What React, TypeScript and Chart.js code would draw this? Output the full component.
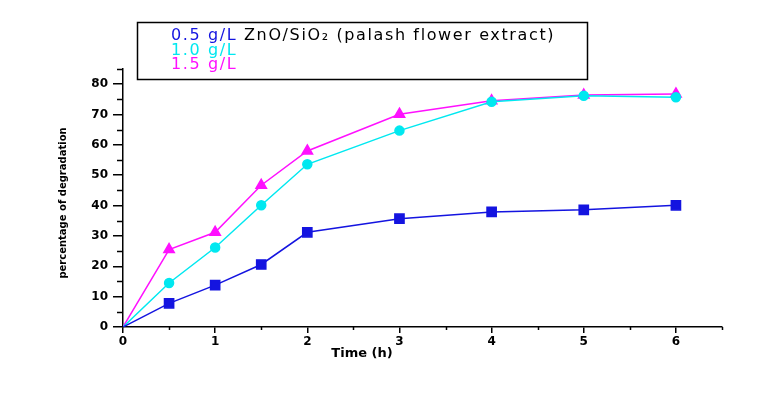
import React, { useEffect, useRef } from "react";
import { Chart, registerables } from "chart.js";

Chart.register(...registerables);

const timeH = [0, 0.5, 1, 1.5, 2, 3, 4, 5, 6];
const series05 = [0, 7.8, 13.8, 20.6, 31.2, 35.7, 37.9, 38.6, 40.1];
const series10 = [0, 14.5, 26.2, 40.1, 53.6, 64.7, 74.2, 76.2, 75.7];
const series15 = [0, 25.5, 31.2, 46.7, 58.0, 70.1, 74.5, 76.4, 76.8];
const seriesLabels = ["0.5 g/L", "1.0 g/L", "1.5 g/L"];
const legendSuffix = " ZnO/SiO\u2082 (palash flower extract)";
const xTicks = [0, 1, 2, 3, 4, 5, 6];
const yTicks = [0, 10, 20, 30, 40, 50, 60, 70, 80];
const xTitle = "Time (h)";
const yTitle = "percentage of degradation";

const colors = ["#1414e0", "#00e8f0", "#ff10ff"];

const overlay = {
  id: "overlay",
  afterDraw(chart: any) {
    const ctx = chart.ctx;
    const xs = chart.scales.x;
    const ys = chart.scales.y;
    const ca = chart.chartArea;
    ctx.save();
    ctx.strokeStyle = "#000";
    ctx.lineWidth = 1.5;
    for (let v = 5; v <= 85; v += 10) {
      const py = Math.round(ys.getPixelForValue(v)) + 0.5;
      ctx.beginPath();
      ctx.moveTo(ca.left - 6, py);
      ctx.lineTo(ca.left, py);
      ctx.stroke();
    }
    for (let v = 0.5; v <= 6.5; v += 1) {
      const px = Math.round(xs.getPixelForValue(v)) + 0.5;
      ctx.beginPath();
      ctx.moveTo(px, ca.bottom);
      ctx.lineTo(px, ca.bottom + 3);
      ctx.stroke();
    }
    ctx.fillStyle = "#000";
    ctx.font = "bold 13px 'DejaVu Sans'";
    ctx.textAlign = "center";
    ctx.textBaseline = "middle";
    ctx.fillText(xTitle, 362, 354);
    ctx.save();
    ctx.translate(63, 203);
    ctx.rotate(-Math.PI / 2);
    ctx.font = "bold 10px 'DejaVu Sans'";
    ctx.fillText(yTitle, 0, 0);
    ctx.restore();
    // legend box
    ctx.fillStyle = "#fff";
    ctx.fillRect(137, 22, 450, 57);
    ctx.lineWidth = 1.5;
    ctx.strokeStyle = "#000";
    ctx.strokeRect(137.5, 22.5, 450, 57);
    ctx.font = "16px 'DejaVu Sans'";
    ctx.textAlign = "left";
    ctx.textBaseline = "middle";
    const full = seriesLabels[0] + legendSuffix;
    const base = ctx.measureText(full).width;
    const spacing = Math.max(0, (384 - base) / full.length);
    (ctx as any).letterSpacing = spacing.toFixed(2) + "px";
    const ys2 = [36, 51, 65];
    chart.data.datasets.forEach((ds: any, i: number) => {
      ctx.fillStyle = ds.borderColor;
      ctx.fillText(ds.label, 171, ys2[i]);
      if (i === 0) {
        const w = ctx.measureText(ds.label).width;
        ctx.fillStyle = "#000";
        ctx.fillText(legendSuffix, 171 + w, ys2[i]);
      }
    });
    (ctx as any).letterSpacing = "0px";
    ctx.restore();
  },
};

export default function App() {
  const ref = useRef<HTMLCanvasElement>(null);
  useEffect(() => {
    if (!ref.current) return;
    const mk = (d: number[]) => d.map((v, i) => ({ x: timeH[i], y: v }));
    const radii = timeH.map((t) => (t === 0 ? 0 : 1));
    const chart = new Chart(ref.current, {
      type: "line",
      data: {
        datasets: [
          {
            label: seriesLabels[0],
            data: mk(series05),
            borderColor: colors[0],
            backgroundColor: colors[0],
            borderWidth: 1.5,
            pointStyle: "rect",
            pointRadius: radii.map((r) => r * 6.5),
          },
          {
            label: seriesLabels[1],
            data: mk(series10),
            borderColor: colors[1],
            backgroundColor: colors[1],
            borderWidth: 1.5,
            pointStyle: "circle",
            pointRadius: radii.map((r) => r * 4.5),
          },
          {
            label: seriesLabels[2],
            data: mk(series15),
            borderColor: colors[2],
            backgroundColor: colors[2],
            borderWidth: 1.5,
            pointStyle: "triangle",
            pointRadius: radii.map((r) => r * 6),
          },
        ],
      },
      options: {
        animation: false,
        responsive: true,
        maintainAspectRatio: false,
        layout: { padding: { left: 0, right: 46, top: 69, bottom: 0 } },
        plugins: { legend: { display: false }, tooltip: { enabled: false } },
        scales: {
          x: {
            type: "linear",
            min: 0,
            max: 6.5,
            afterBuildTicks: (s: any) => {
              s.ticks = xTicks.map((v) => ({ value: v }));
            },
            afterFit: (s: any) => {
              s.height = 71;
            },
            border: { color: "#000", width: 1.5 },
            grid: { drawOnChartArea: false, tickLength: 6, color: "#000", lineWidth: 1.5 },
            ticks: {
              color: "#000",
              padding: 2,
              maxRotation: 0,
              font: { family: "'DejaVu Sans'", size: 12, weight: "bold" },
            },
          },
          y: {
            min: 0,
            max: 85,
            afterBuildTicks: (s: any) => {
              s.ticks = yTicks.map((v) => ({ value: v }));
            },
            afterFit: (s: any) => {
              s.width = 123;
            },
            border: { color: "#000", width: 1.5 },
            grid: { drawOnChartArea: false, tickLength: 10, color: "#000", lineWidth: 1.5 },
            ticks: {
              color: "#000",
              padding: 5,
              font: { family: "'DejaVu Sans'", size: 12, weight: "bold" },
            },
          },
        },
      },
      plugins: [overlay],
    });
    return () => chart.destroy();
  }, []);
  return (
    <div style={{ position: "fixed", left: 0, top: 0, width: 768, height: 398, background: "#fff" }}>
      <canvas ref={ref} />
    </div>
  );
}
